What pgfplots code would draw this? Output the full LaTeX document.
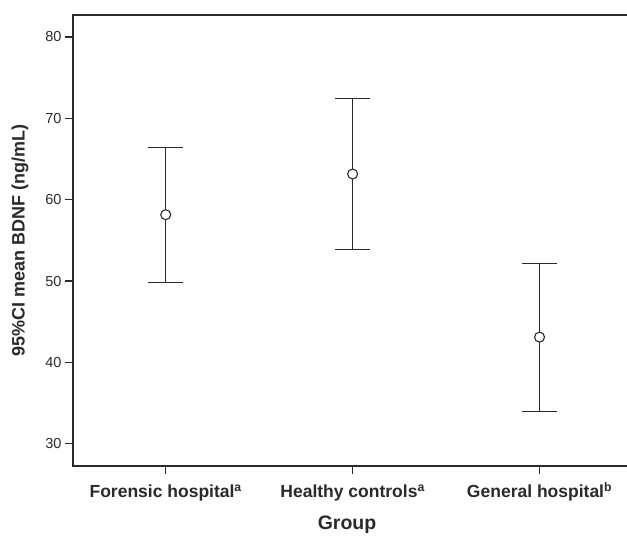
\documentclass[border=0pt]{standalone}
\usepackage{pgfplots}
\pgfplotsset{compat=1.18}
\usepackage{fontspec}
\setmainfont{Liberation Sans}
\definecolor{ink}{HTML}{2A2A2A}
\begin{document}
\begin{tikzpicture}
\begin{axis}[name=ax, scale only axis, width=560pt, height=451pt,
  xmin=-0.496, xmax=2.5, ymin=27.26, ymax=82.7,
  axis line style={ink, line width=1.4pt},
  xtick={0,1,2},
  xticklabels={Forensic hospital\textsuperscript{a}, Healthy controls\textsuperscript{a}, General hospital\textsuperscript{b}},
  ytick={30,40,50,60,70,80},
  xtick pos=left, ytick pos=left,
  tick align=outside, major tick length=8pt,
  tick style={ink, line width=1.1pt},
  /pgf/number format/assume math mode=true,
  yticklabel style={font=\fontsize{14.5}{14.5}\selectfont, text=ink},
  xticklabel style={font=\bfseries\fontsize{17.5}{17.5}\selectfont, text=ink, anchor=base, yshift=-24pt},
  xlabel={Group},
  ylabel={95\%CI mean BDNF (ng/mL)},
  xlabel style={font=\bfseries\fontsize{19.5}{19.5}\selectfont, text=ink, at={(axis description cs:0.5,0)}, anchor=center, yshift=-59pt, xshift=-6pt},
  ylabel style={font=\bfseries\fontsize{18}{18}\selectfont, text=ink, at={(axis description cs:0,0.5)}, anchor=center, yshift=53pt},
]
\addplot[ink, line width=1.1pt, mark=*, mark size=5pt, mark options={fill=white, draw=ink, line width=1.1pt},
  only marks,
  error bars/.cd, y dir=both, y explicit,
  error bar style={ink, line width=1.1pt},
  error mark options={rotate=90, mark size=17.5pt, line width=1.1pt, ink}]
coordinates {
  (0,58.15) +- (0,8.3)
  (1,63.15) +- (0,9.25)
  (2,43.1) +- (0,9.1)
};
\end{axis}
\pgfresetboundingbox
\path ([xshift=-73pt,yshift=-77pt]ax.south west) rectangle ([xshift=554pt,yshift=15pt]ax.north west);
\end{tikzpicture}
\end{document}
